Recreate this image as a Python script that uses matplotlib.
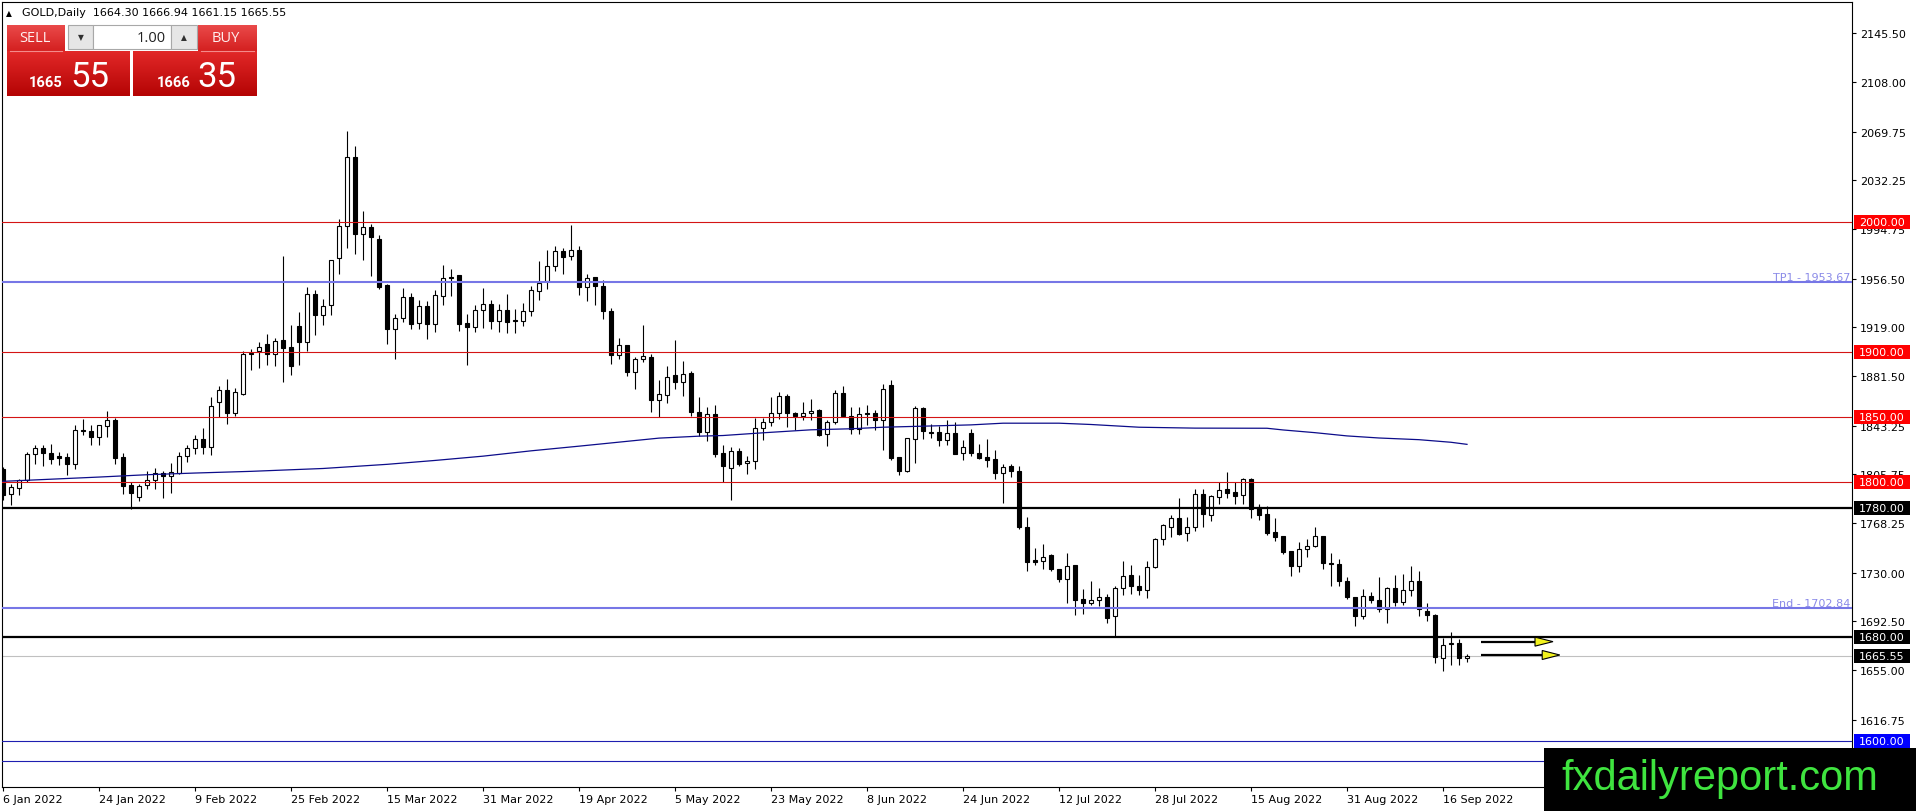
import matplotlib
matplotlib.use('Agg')
import matplotlib.pyplot as plt
import matplotlib.transforms as mtransforms
from matplotlib.patches import Rectangle, Polygon
from matplotlib.colors import LinearSegmentedColormap
import numpy as np
import pandas as pd

# daily OHLC, 6 Jan 2022 .. 21 Sep 2022
opens = [1810.0, 1790.2, 1795.1, 1801.0, 1821.3, 1826.0, 1822.4, 1819.5, 1819.0, 1813.4,
         1840.0, 1839.0, 1834.4, 1842.9, 1847.8, 1819.0, 1797.7, 1788.2, 1797.2, 1801.0,
         1806.9, 1804.4, 1806.9, 1819.8, 1826.0, 1832.6, 1826.7, 1861.4, 1870.9, 1853.0,
         1867.9, 1899.5, 1900.6, 1905.8, 1898.6, 1909.4, 1903.7, 1919.8, 1908.0, 1944.8,
         1928.1, 1935.8, 1972.3, 1997.4, 2050.0, 1990.5, 1996.1, 1987.2, 1951.7, 1917.8,
         1926.3, 1942.2, 1922.2, 1935.3, 1921.2, 1943.0, 1957.9, 1959.4, 1922.4, 1919.1,
         1932.2, 1937.1, 1924.2, 1932.5, 1924.8, 1924.2, 1931.4, 1946.8, 1954.3, 1966.1,
         1977.7, 1973.8, 1978.2, 1949.9, 1957.6, 1950.7, 1931.4, 1897.3, 1905.5, 1884.9,
         1894.2, 1896.0, 1862.6, 1867.2, 1881.9, 1876.7, 1884.0, 1854.1, 1838.2, 1851.8,
         1822.0, 1810.5, 1823.5, 1814.3, 1815.8, 1841.3, 1845.9, 1852.8, 1865.9, 1853.1,
         1850.5, 1852.8, 1855.4, 1836.9, 1845.9, 1868.5, 1851.0, 1840.8, 1853.1, 1853.1,
         1847.2, 1874.7, 1818.9, 1808.1, 1833.1, 1856.7, 1838.7, 1838.7, 1832.5, 1837.7,
         1822.0, 1837.7, 1822.3, 1818.9, 1817.6, 1806.9, 1812.0, 1808.1, 1765.0, 1739.8,
         1739.3, 1743.2, 1732.9, 1725.2, 1735.5, 1709.8, 1706.7, 1708.5, 1711.1, 1696.4,
         1718.3, 1727.8, 1719.5, 1716.9, 1734.2, 1756.0, 1765.0, 1772.2, 1760.4, 1765.0,
         1790.2, 1774.3, 1787.9, 1794.4, 1792.3, 1789.7, 1802.1, 1780.2, 1775.1, 1761.0,
         1758.4, 1746.8, 1735.3, 1748.1, 1750.7, 1757.9, 1737.3, 1736.3, 1723.2, 1710.9,
         1696.8, 1711.7, 1709.1, 1701.9, 1717.8, 1707.6, 1716.8, 1723.7, 1700.6, 1697.3,
         1663.9, 1675.0, 1675.4, 1664.30]
highs = [1811.0, 1798.5, 1802.3, 1822.9, 1828.0, 1828.0, 1829.3, 1822.9, 1822.4, 1843.4,
         1848.0, 1843.4, 1844.0, 1854.2, 1849.4, 1822.4, 1799.7, 1798.5, 1808.0, 1810.5,
         1808.0, 1814.7, 1822.9, 1828.5, 1835.7, 1841.4, 1865.3, 1873.8, 1879.4, 1872.2,
         1900.5, 1902.4, 1907.5, 1914.0, 1910.6, 1974.3, 1920.9, 1931.0, 1949.9, 1947.4,
         1940.9, 1971.0, 2002.6, 2070.1, 2058.6, 2008.5, 1998.7, 1990.2, 1952.5, 1929.4,
         1949.2, 1945.6, 1939.7, 1938.9, 1947.4, 1966.6, 1964.0, 1959.5, 1929.4, 1935.8,
         1949.2, 1939.7, 1937.1, 1944.8, 1933.2, 1937.6, 1950.7, 1969.7, 1978.7, 1981.5,
         1980.0, 1997.9, 1981.5, 1960.2, 1958.1, 1955.1, 1934.0, 1910.6, 1905.5, 1896.0,
         1920.4, 1898.6, 1878.0, 1889.1, 1909.3, 1892.7, 1885.0, 1865.2, 1857.5, 1858.8,
         1828.5, 1826.6, 1826.1, 1820.2, 1849.0, 1849.0, 1865.2, 1869.0, 1867.7, 1853.6,
         1861.8, 1863.9, 1856.2, 1847.7, 1870.3, 1874.1, 1857.4, 1857.4, 1859.2, 1854.9,
         1875.4, 1878.5, 1818.9, 1833.6, 1858.0, 1857.4, 1844.6, 1843.3, 1847.7, 1845.9,
         1831.8, 1840.8, 1829.2, 1833.1, 1824.8, 1813.8, 1813.8, 1812.0, 1772.7, 1748.8,
         1752.2, 1744.5, 1732.9, 1745.2, 1736.0, 1717.0, 1723.9, 1718.0, 1713.6, 1719.3,
         1738.8, 1736.0, 1727.8, 1739.3, 1756.5, 1767.6, 1774.5, 1787.6, 1772.7, 1794.5,
         1794.5, 1789.7, 1800.0, 1807.7, 1799.5, 1802.6, 1802.6, 1782.8, 1781.5, 1771.8,
         1758.4, 1746.8, 1753.3, 1755.8, 1764.8, 1757.9, 1744.8, 1740.4, 1726.8, 1710.9,
         1717.3, 1714.7, 1726.8, 1719.1, 1728.1, 1728.9, 1735.3, 1730.9, 1706.5, 1698.0,
         1679.3, 1683.9, 1678.8, 1666.94]
lows = [1786.0, 1781.7, 1789.5, 1799.7, 1813.9, 1811.8, 1813.9, 1812.6, 1804.9, 1809.5,
        1835.7, 1828.0, 1828.5, 1834.4, 1813.9, 1790.7, 1779.2, 1784.8, 1794.6, 1794.1,
        1787.7, 1791.5, 1806.1, 1815.2, 1821.6, 1821.6, 1820.3, 1849.9, 1844.2, 1850.4,
        1866.6, 1885.7, 1887.5, 1889.6, 1889.0, 1877.2, 1882.4, 1890.0, 1901.1, 1913.2,
        1920.9, 1928.6, 1960.2, 1980.0, 1975.6, 1970.5, 1958.4, 1948.6, 1906.3, 1894.2,
        1923.0, 1917.3, 1917.3, 1910.1, 1915.3, 1936.3, 1943.0, 1916.5, 1889.6, 1915.3,
        1918.3, 1917.3, 1915.3, 1914.7, 1914.5, 1919.9, 1927.6, 1939.7, 1948.6, 1962.0,
        1960.2, 1970.5, 1943.5, 1938.9, 1935.8, 1925.5, 1890.9, 1894.7, 1881.1, 1871.6,
        1892.1, 1854.1, 1849.8, 1860.8, 1871.6, 1865.9, 1851.0, 1835.6, 1831.0, 1819.0,
        1799.5, 1786.3, 1812.5, 1806.1, 1810.0, 1831.8, 1843.3, 1848.5, 1842.0, 1840.2,
        1847.2, 1847.7, 1835.1, 1827.9, 1844.1, 1849.7, 1836.9, 1836.9, 1843.8, 1840.0,
        1824.8, 1817.1, 1804.8, 1807.4, 1814.6, 1833.1, 1833.6, 1827.9, 1828.4, 1821.5,
        1816.4, 1820.2, 1817.6, 1811.2, 1802.2, 1783.7, 1803.5, 1763.2, 1731.6, 1735.5,
        1732.9, 1731.6, 1722.6, 1706.7, 1697.0, 1698.2, 1705.2, 1704.6, 1691.3, 1680.5,
        1712.4, 1713.6, 1712.9, 1710.6, 1733.4, 1751.6, 1757.3, 1758.6, 1754.0, 1762.4,
        1765.0, 1770.0, 1782.8, 1787.2, 1782.8, 1782.8, 1772.0, 1770.7, 1758.9, 1754.5,
        1744.3, 1727.1, 1730.2, 1741.7, 1749.4, 1732.7, 1719.4, 1719.9, 1709.6, 1688.5,
        1694.2, 1706.5, 1699.3, 1690.9, 1704.0, 1705.0, 1711.7, 1696.3, 1692.9, 1660.3,
        1653.9, 1658.8, 1658.8, 1661.15]
closes = [1790.0, 1795.9, 1801.0, 1821.6, 1826.0, 1822.0, 1817.2, 1818.0, 1813.4, 1840.1,
          1839.0, 1834.4, 1843.4, 1847.8, 1818.5, 1796.4, 1791.3, 1796.7, 1801.0, 1806.9,
          1804.4, 1807.5, 1819.8, 1826.0, 1832.6, 1826.7, 1858.4, 1870.9, 1853.0, 1869.2,
          1898.7, 1898.5, 1903.7, 1898.6, 1908.3, 1903.4, 1889.0, 1908.0, 1944.8, 1928.1,
          1935.3, 1970.7, 1997.4, 2050.0, 1991.0, 1996.1, 1988.4, 1949.9, 1917.3, 1926.3,
          1942.2, 1921.2, 1935.3, 1921.2, 1944.0, 1956.9, 1956.6, 1921.9, 1919.1, 1932.0,
          1936.8, 1924.2, 1932.5, 1923.0, 1923.5, 1931.4, 1947.9, 1953.3, 1966.1, 1977.7,
          1973.0, 1978.2, 1949.9, 1957.1, 1950.7, 1931.4, 1897.3, 1905.0, 1884.9, 1894.2,
          1896.8, 1862.6, 1867.7, 1880.6, 1876.7, 1883.2, 1853.6, 1838.2, 1851.8, 1821.0,
          1812.0, 1823.3, 1813.8, 1815.8, 1841.3, 1846.4, 1852.8, 1865.9, 1852.8, 1850.5,
          1852.8, 1854.4, 1836.1, 1845.9, 1868.5, 1850.5, 1840.8, 1852.3, 1851.8, 1847.2,
          1871.6, 1818.4, 1808.1, 1833.6, 1856.7, 1839.0, 1837.4, 1832.5, 1837.7, 1821.5,
          1826.6, 1822.3, 1818.4, 1817.1, 1806.9, 1811.2, 1808.1, 1765.0, 1738.5, 1738.0,
          1741.9, 1732.9, 1725.2, 1735.0, 1708.5, 1706.7, 1709.0, 1711.1, 1695.1, 1718.3,
          1727.0, 1719.5, 1716.7, 1734.2, 1756.0, 1766.3, 1772.2, 1759.9, 1765.0, 1790.2,
          1775.3, 1788.7, 1793.6, 1791.3, 1789.2, 1802.1, 1778.9, 1774.3, 1760.5, 1757.1,
          1745.6, 1735.3, 1748.1, 1750.2, 1757.9, 1737.3, 1736.3, 1723.2, 1710.9, 1696.8,
          1711.7, 1709.1, 1701.9, 1717.8, 1707.6, 1716.8, 1723.7, 1701.9, 1697.3, 1664.7,
          1674.4, 1675.6, 1663.9, 1665.55]

# moving average, read at selected bars
ma_bar = [0, 12, 18, 24, 31, 40, 48, 54, 60, 66, 72, 82, 87, 90, 95, 101, 106, 110,
          115, 121, 125, 132, 136, 142, 149, 158, 160, 164, 168, 172, 177, 181, 183]
ma_val = [1800.3, 1803.6, 1805.4, 1806.7, 1808.0, 1810.2, 1813.4, 1816.4, 1819.7, 1823.8,
          1827.4, 1833.6, 1835.1, 1835.6, 1837.7, 1840.0, 1840.8, 1842.0, 1842.8, 1843.8,
          1845.1, 1845.1, 1844.1, 1842.0, 1841.3, 1841.2, 1839.9, 1837.8, 1835.3, 1833.7,
          1832.4, 1830.4, 1828.8]

price_ticks = [2145.50, 2108.00, 2069.75, 2032.25, 1994.75, 1956.50, 1919.00, 1881.50,
               1843.25, 1805.75, 1768.25, 1730.00, 1692.50, 1655.00, 1616.75]

red_levels = [2000.0, 1900.0, 1850.0, 1800.0]
black_levels = [1780.0, 1680.0]
blue_levels = [1600.0, 1584.6]
fibo_names = ['TP1', 'End']
fibo_levels = [1953.67, 1702.84]
bid, ask = 1665.55, 1666.35

dates = pd.bdate_range('2022-01-06', '2022-09-21')
dates = dates[dates != pd.Timestamp('2022-04-15')][:len(opens)]

W, H = 1916, 812
fig = plt.figure(figsize=(W / 100, H / 100), dpi=100)
fig.patch.set_facecolor('white')

def px_rect(x0, y0, x1, y1):
    return [x0 / W, 1 - y1 / H, (x1 - x0) / W, (y1 - y0) / H]

ax = fig.add_axes(px_rect(2, 2.5, 1852, 788))
ax.set_facecolor('white')
ylo, yhi = 1564.8, 2170.0
ax.set_xlim(-0.125, 231.125)
ax.set_ylim(ylo, yhi)
per_px = (yhi - ylo) / 785.5

o = np.array(opens); h = np.array(highs); l = np.array(lows); c = np.array(closes)
x = np.arange(len(o))
up = c >= o
ax.vlines(x, l, h, color='black', lw=0.8, zorder=3)
ax.bar(x, np.maximum(np.abs(c - o), 0.35), bottom=np.minimum(o, c), width=0.55,
       color=np.where(up, 'white', 'black'), edgecolor='black', linewidth=0.8, zorder=4)

ax.plot(ma_bar, ma_val, color='#0c0c8a', lw=0.9, zorder=5)

for lv in red_levels:
    ax.axhline(lv, color='#d41414', lw=0.8, zorder=6)
for lv in black_levels:
    ax.axhline(lv, color='black', lw=1.6, zorder=6)
for lv in blue_levels:
    ax.axhline(lv, color='#1e1eb0', lw=0.8, zorder=6)
ax.axhline(bid, color='#c0c0c0', lw=0.8, zorder=2)

trans = mtransforms.blended_transform_factory(ax.transAxes, ax.transData)
for name, lv in zip(fibo_names, fibo_levels):
    ax.axhline(lv, color='#7676e6', lw=1.5, zorder=6)
    ax.text(1 - 2 / 1850, lv + 2 * per_px, f'{name} - {lv:.2f}', transform=trans,
            ha='right', va='baseline', color='#8a8ae8', fontsize=8, zorder=7)

# arrows drawn on the chart
arrows = [(184.75, 191.5, 193.75, 1676.8), (184.75, 192.4, 194.6, 1666.5)]
for x0, x1, x2, yv in arrows:
    ax.plot([x0, x1], [yv, yv], color='black', lw=1.6, zorder=8, solid_capstyle='butt')
    ax.add_patch(Polygon([(x1, yv + 4.5 * per_px), (x1, yv - 4.5 * per_px), (x2, yv)],
                         closed=True, fc='#f2f21e', ec='black', lw=0.8, zorder=9))

# axes
for s in ax.spines.values():
    s.set_color('black')
    s.set_linewidth(0.8)
ax.yaxis.tick_right()
ax.set_yticks(price_ticks)
ax.set_yticklabels([f'{v:.2f}' for v in price_ticks])
ax.tick_params(axis='y', direction='out', length=3, width=0.8, pad=2.5, labelsize=8)
tick_idx = list(range(0, len(dates), 12))
ax.set_xticks(tick_idx)
ax.set_xticklabels([f'{dates[i].day} {dates[i].strftime("%b %Y")}' for i in tick_idx],
                   ha='left')
ax.tick_params(axis='x', direction='out', length=3, width=0.8, pad=2, labelsize=8)

# price boxes on the right axis
box_h = 14 * per_px
boxes = [(lv, '#ff0000') for lv in red_levels] + [(lv, '#000000') for lv in black_levels] \
        + [(bid, '#000000'), (blue_levels[0], '#0000ff')]
for lv, col in boxes:
    ax.add_patch(Rectangle((1 + 2 / 1850, lv - box_h / 2), 56 / 1850, box_h, transform=trans,
                           fc=col, ec='none', clip_on=False, zorder=10))
    ax.text(1 + 7 / 1850, lv, f'{lv:.2f}', transform=trans, ha='left', va='center',
            color='white', fontsize=8, zorder=11, clip_on=False)

# overlay in pixel coordinates: header, trade panel, watermark
ov = fig.add_axes([0, 0, 1, 1])
ov.set_zorder(20)
ov.axis('off')

def grad(x0, y0, x1, y1, top, bot):
    cmap = LinearSegmentedColormap.from_list('g', [top, bot])
    ov.imshow(np.linspace(0, 1, 64).reshape(-1, 1), cmap=cmap, extent=(x0, x1, y1, y0),
              aspect='auto', interpolation='bilinear', origin='upper', zorder=1)

grad(7, 26, 65, 52, '#ea4a4a', '#d42020')
grad(198, 26, 257, 52, '#ea4a4a', '#d42020')
grad(7, 52, 130, 97, '#e22828', '#b40404')
grad(133, 52, 257, 97, '#e22828', '#b40404')
ov.plot([10, 62], [52, 52], color='#f48a8a', lw=0.8, zorder=2)
ov.plot([201, 254], [52, 52], color='#f48a8a', lw=0.8, zorder=2)
ov.add_patch(Rectangle((68, 26), 25, 24, fc='#e6e6e6', ec='#a8a8a8', lw=0.8, zorder=2))
ov.add_patch(Rectangle((93, 26), 78, 24, fc='white', ec='#a8a8a8', lw=0.8, zorder=2))
ov.add_patch(Rectangle((171, 26), 26, 24, fc='#e6e6e6', ec='#a8a8a8', lw=0.8, zorder=2))
ov.text(80.5, 38, '▼', ha='center', va='center', fontsize=5.5, color='#303030', zorder=3)
ov.text(184, 38, '▲', ha='center', va='center', fontsize=5.5, color='#303030', zorder=3)
ov.text(166, 38.5, '1.00', ha='right', va='center', fontsize=10.5, color='#202020',
        family='Open Sans', zorder=3)
ov.text(35, 39, 'SELL', ha='center', va='center', fontsize=10.5, color='#fff0f0',
        family='Open Sans', zorder=3)
ov.text(226, 39, 'BUY', ha='center', va='center', fontsize=10.5, color='#fff0f0',
        family='Open Sans', zorder=3)
bid_s, ask_s = f'{bid:.2f}', f'{ask:.2f}'
ov.text(29, 87, bid_s[:4], ha='left', va='baseline', fontsize=10.5, fontweight='bold',
        color='white', family='Roboto', zorder=3)
ov.text(70, 87, bid_s[5:], ha='left', va='baseline', fontsize=25, color='white',
        family='Roboto', zorder=3)
ov.text(157, 87, ask_s[:4], ha='left', va='baseline', fontsize=10.5, fontweight='bold',
        color='white', family='Roboto', zorder=3)
ov.text(197, 87, ask_s[5:], ha='left', va='baseline', fontsize=25, color='white',
        family='Roboto', zorder=3)

ov.text(6, 13.5, '▲', ha='left', va='center', fontsize=5.5, color='black', zorder=3)
ov.text(22, 13.5, f'GOLD,Daily  {opens[-1]:.2f} {highs[-1]:.2f} {lows[-1]:.2f} {closes[-1]:.2f}',
        ha='left', va='center', fontsize=8, color='black', zorder=3)

ov.add_patch(Rectangle((1544, 749), W - 1544, H - 749, fc='black', ec='none', zorder=2))
ov.text(1561, 790, 'fxdailyreport.com', ha='left', va='baseline', fontsize=30,
        color='#3fe43f', family='Liberation Sans', zorder=3)

ov.set_xlim(0, W)
ov.set_ylim(H, 0)

fig.savefig('out.png', dpi=100, facecolor='white')
